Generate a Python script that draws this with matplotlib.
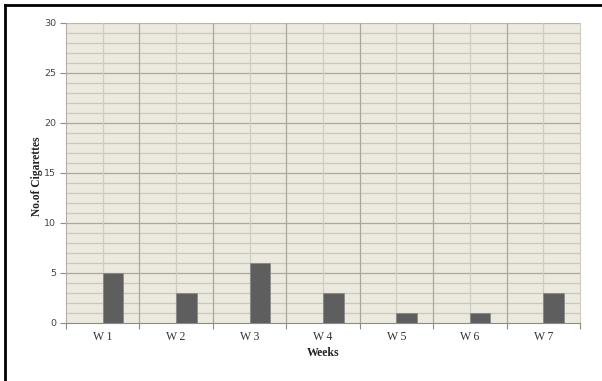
import matplotlib
matplotlib.use('Agg')
import matplotlib.pyplot as plt
import numpy as np
from matplotlib.lines import Line2D

weeks = ['W1', 'W2', 'W3', 'W4', 'W5', 'W6', 'W7']
cigarettes = [5, 3, 6, 3, 1, 1, 3]

fig = plt.figure(figsize=(6.02, 3.81), dpi=100)
fig.patch.set_facecolor('white')
ax = fig.add_axes([66/602, 1 - 323/381, 514/602, 300/381])
ax.set_facecolor('#ece9df')

x = np.arange(len(weeks))
ax.bar(x, cigarettes, width=0.28, align='edge', color='#5e5e5e',
       edgecolor='#8a8a8a', linewidth=0.6, zorder=3)

ax.set_xlim(-0.5, len(weeks) - 0.5)
ax.set_ylim(0, 30)

# horizontal grid: light every unit, darker every 5
for v in range(1, 30):
    c = '#a9a89f' if v % 5 == 0 else '#cac8bd'
    ax.axhline(v, color=c, linewidth=0.9, zorder=1)
ax.axhline(30, color='#b8b6ad', linewidth=0.9, zorder=1)
# vertical grid: category boundaries and centres
for b in np.arange(0.5, len(weeks) - 0.5, 1):
    ax.axvline(b, color='#a9a89f', linewidth=0.9, zorder=1)
for c in x:
    ax.axvline(c, color='#cfcdc2', linewidth=0.9, zorder=1)

ax.spines['top'].set_visible(False)
ax.spines['left'].set_color('#b0aea6')
ax.spines['bottom'].set_color('#8c8b85')
ax.spines['right'].set_color('#cfcdc2')

ax.set_yticks(range(0, 31, 5))
ax.set_yticklabels([str(v) for v in range(0, 31, 5)], fontfamily='DejaVu Sans',
                   fontsize=6.8, color='#444444')
ax.tick_params(axis='y', length=4, width=0.8, color='#8c8b85', pad=3)

ax.set_xticks(np.arange(-0.5, len(weeks), 1))
ax.set_xticklabels([])
ax.tick_params(axis='x', length=4, width=0.8, color='#8c8b85')
for i, w in enumerate(weeks):
    ax.text(i, -0.85, w[0] + '\u2009' + w[1:], ha='center', va='top',
            fontfamily='Liberation Serif', fontsize=8.5, color='#333333')

ax.text(3, -2.45, 'Weeks', ha='center', va='top', fontfamily='Liberation Serif',
        fontsize=8.5, fontweight='bold', color='#222222')
ax.set_ylabel('No.of Cigarettes', fontfamily='Liberation Serif', fontsize=8.3,
              fontweight='bold', color='#222222')
ax.yaxis.set_label_coords(-0.044, 0.49)

# outer frame
fig.add_artist(Line2D([5/602, 5/602], [0, 1 - 5/381], color='black', linewidth=2,
                      transform=fig.transFigure))
fig.add_artist(Line2D([5/602, 1], [1 - 5/381, 1 - 5/381], color='black', linewidth=2,
                      transform=fig.transFigure))

fig.savefig('out.png', dpi=100)
